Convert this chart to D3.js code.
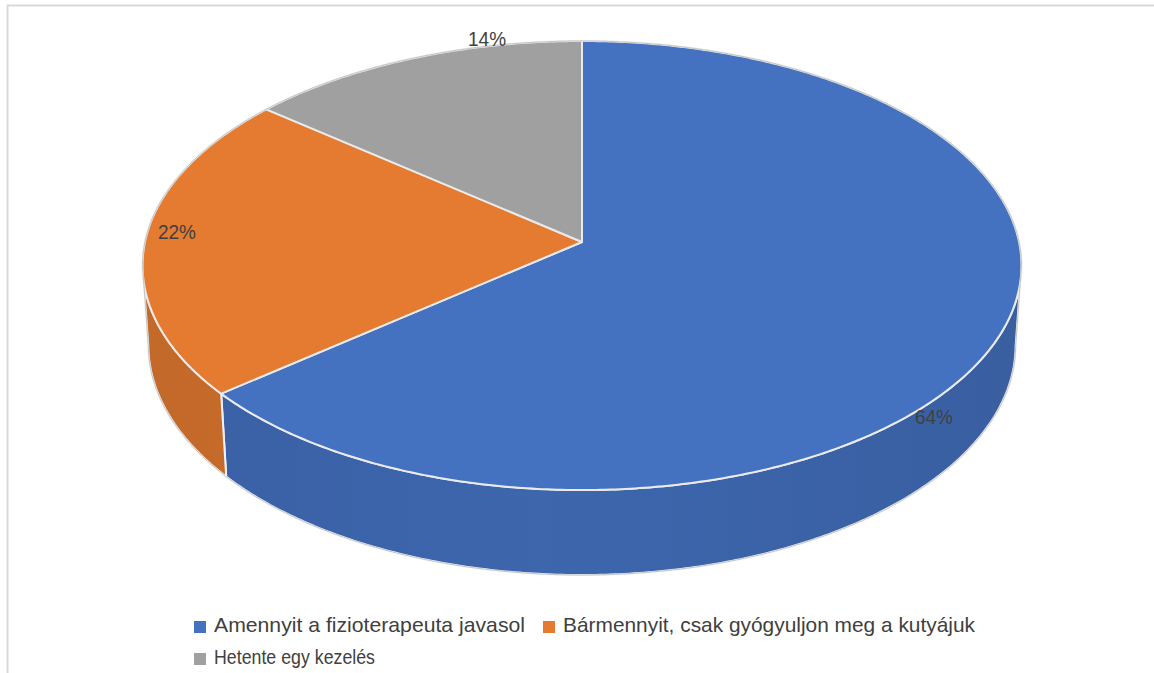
<!DOCTYPE html>
<meta charset="utf-8">
<script src="https://d3js.org/d3.v7.min.js"></script>
<style>
  body { margin: 0; background: #fff; }
</style>
<div id="chart"></div>
<script>

// data
var categories = ["Amennyit a fizioterapeuta javasol", "Bármennyit, csak gyógyuljon meg a kutyájuk", "Hetente egy kezelés"];
var values = [64, 22, 14];
var colors = ["#4471c0", "#e57b30", "#a0a0a0"];

var W = 1154, H = 673;

var svg = d3.select("#chart")
    .append("svg")
    .attr("width", W)
    .attr("height", H);

// chart frame (only top + left edge visible)
svg.append("path")
    .attr("d", "M7.5," + H + " V5.5 H" + W)
    .attr("fill", "none")
    .attr("stroke", "#d9d9d9")
    .attr("stroke-width", 2);

// 3d pie projection: disk tilted by alpha and seen with some perspective
var cx = 582, cy = 242, f = 3594;
var R = 0.1216, tilt = 0.533, thick = 0.026;
var s = Math.sin(tilt), c = Math.cos(tilt);

function P(theta, r, depth) {
  var X = R * r * Math.sin(theta), Z = -R * r * Math.cos(theta);
  var v = Z * s + depth * c, w = 1 - Z * c + depth * s;
  return [cx + f * X / w, cy + f * v / w];
}

function rim(a, b, depth) {
  var n = Math.max(2, Math.ceil(Math.abs(b - a) / 0.01)), pts = [];
  for (var i = 0; i <= n; i++) pts.push(P(a + (b - a) * i / n, 1, depth));
  return pts;
}

var pie = d3.pie().sort(null).value(function (d) { return d; });
var arcs = pie(values);
var total = d3.sum(values);
var line = d3.line();

// visible part of the outer wall (between the two silhouette points)
var k = R * c;
var lo = Math.acos(-k), hi = 2 * Math.PI - Math.acos(-k);

// side gradients
var defs = svg.append("defs");
var xl = P(hi, 1, 0)[0], xr = P(lo, 1, 0)[0];
colors.forEach(function (col, i) {
  var g = defs.append("linearGradient")
      .attr("id", "side" + i)
      .attr("gradientUnits", "userSpaceOnUse")
      .attr("x1", xl).attr("x2", xr).attr("y1", 0).attr("y2", 0);
  g.append("stop").attr("offset", 0).attr("stop-color", d3.color(col).darker(0.45));
  g.append("stop").attr("offset", 0.45).attr("stop-color", d3.color(col).darker(0.3));
  g.append("stop").attr("offset", 1).attr("stop-color", d3.color(col).darker(0.5));
});

// walls
arcs.forEach(function (d, i) {
  var a = Math.max(d.startAngle, lo), b = Math.min(d.endAngle, hi);
  if (a >= b) return;
  var pts = rim(a, b, 0).concat(rim(b, a, thick));
  svg.append("path")
      .attr("d", line(pts) + "Z")
      .attr("fill", "url(#side" + i + ")")
      .attr("stroke", "#eef1f6")
      .attr("stroke-width", 2)
      .attr("stroke-linejoin", "round");
});

// top faces
arcs.forEach(function (d, i) {
  var pts = [P(0, 0, 0)].concat(rim(d.startAngle, d.endAngle, 0));
  svg.append("path")
      .attr("d", line(pts) + "Z")
      .attr("fill", colors[i])
      .attr("stroke", "#eaeaea")
      .attr("stroke-width", 2)
      .attr("stroke-linejoin", "round");
});

// outer outline
var outline = rim(hi - 2 * Math.PI, lo, 0).concat(rim(lo, hi, thick));
svg.append("path")
    .attr("d", line(outline) + "Z")
    .attr("fill", "none")
    .attr("stroke", "#c4c4c4")
    .attr("stroke-width", 1);

// percentage labels, anchored at mid angle and nudged like excel does
var labelNudge = [[-62, 77], [32, -9], [75, -18]];
var pct = d3.format(".0%");
arcs.forEach(function (d, i) {
  var p = P((d.startAngle + d.endAngle) / 2, 1, 0);
  svg.append("text")
      .attr("x", p[0] + labelNudge[i][0] - 19)
      .attr("y", p[1] + labelNudge[i][1])
      .attr("dominant-baseline", "middle")
      .attr("fill", "#404040")
      .attr("textLength", 38)
      .attr("lengthAdjust", "spacingAndGlyphs")
      .style("font-family", "'Liberation Sans Narrow', 'Liberation Sans', sans-serif")
      .style("font-size", "21px")
      .text(pct(values[i] / total));
});

// legend
var legendX = [194, 543, 194], legendY = [626, 626, 658], legendW = [311, 412, 161];
categories.forEach(function (name, i) {
  svg.append("rect")
      .attr("x", legendX[i]).attr("y", legendY[i] - 5)
      .attr("width", 12).attr("height", 12)
      .attr("fill", colors[i]);
  svg.append("text")
      .attr("x", legendX[i] + 20)
      .attr("y", legendY[i])
      .attr("dominant-baseline", "middle")
      .attr("fill", "#404040")
      .attr("textLength", legendW[i])
      .attr("lengthAdjust", "spacingAndGlyphs")
      .style("font-family", "'Liberation Sans Narrow', 'Liberation Sans', sans-serif")
      .style("font-size", "21px")
      .text(name);
});

</script>
